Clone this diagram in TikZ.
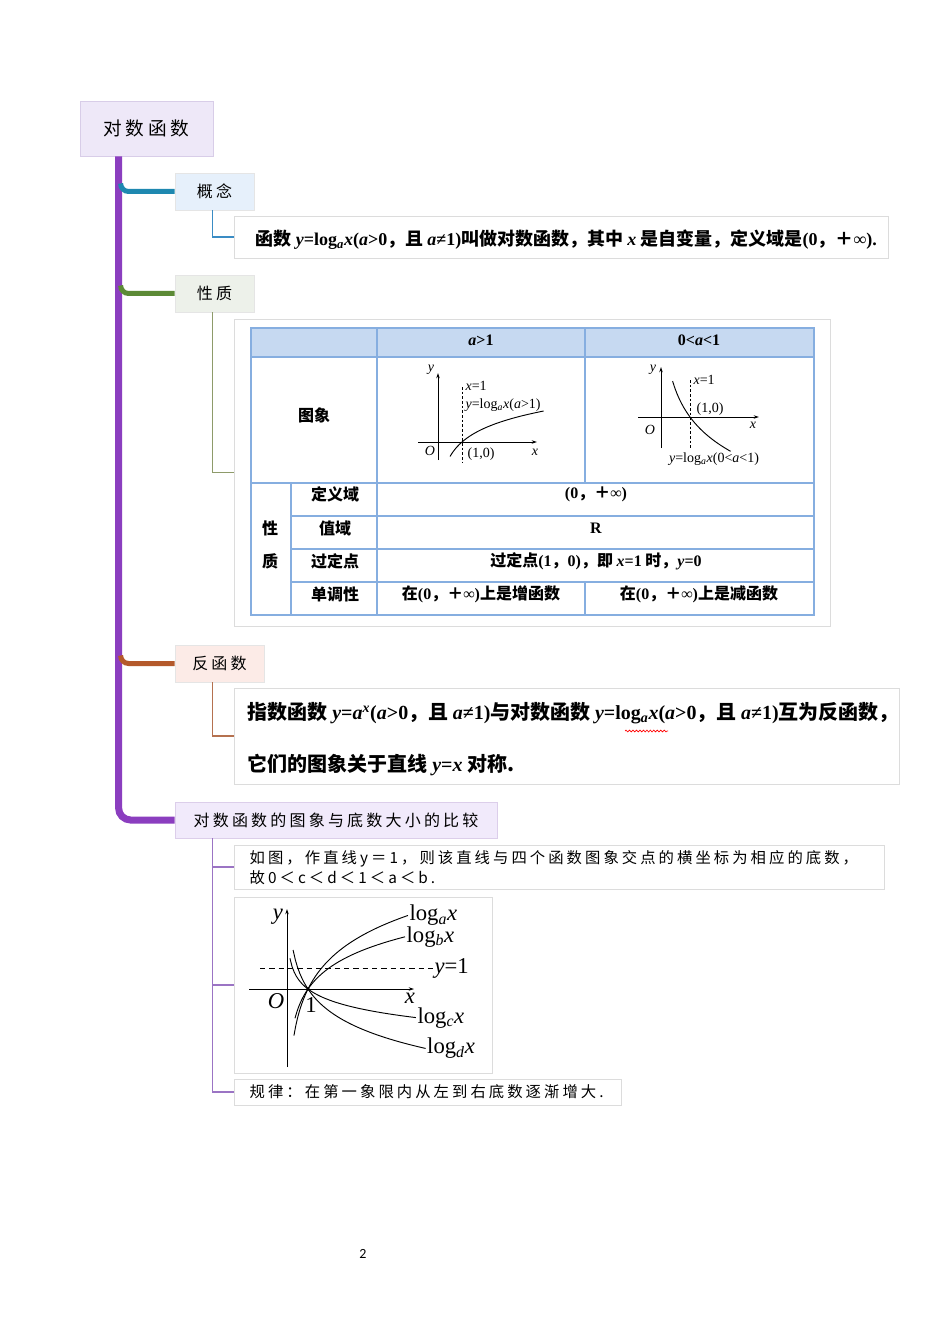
\documentclass[tikz,border=0pt]{standalone}
\usepackage[no-math]{fontspec}
\setmainfont{Noto Sans CJK SC}
\newfontfamily\tms{Liberation Serif}
\newfontfamily\spaced{Noto Sans CJK SC}[LetterSpace=20]
\newfontfamily\pagefont{Carlito}
\usepackage{xcolor}
\usetikzlibrary{arrows.meta,positioning,calc,fit,decorations.pathmorphing}
\definecolor{rootFill}{HTML}{EEE8F8}
\definecolor{rootLine}{HTML}{D8CDE8}
\definecolor{trunkPurple}{HTML}{8B3EBF}
\definecolor{conceptBlue}{HTML}{1E88B0}
\definecolor{conceptFill}{HTML}{E6F0FB}
\definecolor{conceptLeaf}{HTML}{3A8CC4}
\definecolor{propGreen}{HTML}{5C8A36}
\definecolor{propFill}{HTML}{EDF1EA}
\definecolor{propLeaf}{HTML}{8E9B6A}
\definecolor{invRust}{HTML}{B4592B}
\definecolor{invFill}{HTML}{FCEBE7}
\definecolor{invLeaf}{HTML}{B5714F}
\definecolor{cmpFill}{HTML}{F1EAFB}
\definecolor{cmpLeaf}{HTML}{9B74C4}
\definecolor{noteLine}{HTML}{DCDCDC}
\definecolor{tableBlue}{HTML}{86AEE0}
\definecolor{headFill}{HTML}{C6D9F1}
\newcommand\mv[1]{{\tms\itshape #1}}
\newcommand\mt[1]{{\tms #1}}
\newcommand\logsub[1]{\mt{log}\textsubscript{\mv{#1}}}

\begin{document}
\begin{tikzpicture}[
  x=0.75pt,y=-0.75pt,
  font=\fontsize{12}{14}\selectfont,
  pxsize/.style 2 args={minimum width=#1*0.75pt,minimum height=#2*0.75pt},
  rootbox/.style={draw=rootLine,fill=rootFill,inner sep=0pt,line width=0.6pt,font=\spaced\fontsize{14}{16}\selectfont},
  topic/.style={draw=black!10,fill=#1,inner sep=0pt,line width=0.6pt,font=\spaced\fontsize{12}{14}\selectfont},
  note/.style={draw=noteLine,fill=white,inner sep=0pt,line width=0.6pt},
  trunkline/.style={line width=5.25pt,draw=trunkPurple,rounded corners=9pt},
  branch/.style={line width=3.75pt,draw=#1,rounded corners=6pt},
  leaf/.style={line width=0.9pt,draw=#1},
  tblline/.style={draw=tableBlue,line width=0.8pt},
  cell/.style={font=\bfseries\fontsize{12}{14}\selectfont},
  axis/.style={-{Stealth[length=4pt,width=2.6pt]},line width=0.6pt},
  curve/.style={line width=0.7pt},
  guide/.style={dash pattern=on 2pt off 1.5pt,line width=0.5pt}
]
\useasboundingbox (0,0) rectangle (950,1344);
\fill[white] (0,0) rectangle (950,1344);

% mind map frame
\node[rootbox,pxsize={133}{55}] (root) at (146.5,128.5) {对数函数};
\coordinate (trunk) at ($(root.south west)+(39,0)$);
\node[topic=conceptFill,pxsize={79}{37}] (gainian) at (214.5,191.5) {概念};
\node[topic=propFill,pxsize={79}{37}] (xingzhi) at (214.5,293.5) {性质};
\node[topic=invFill,pxsize={89}{37}] (fanhs) at (219.5,663.5) {反函数};
\node[topic=cmpFill,draw=cmpLeaf!35,pxsize={322}{36}] (bijiao) at (336,820) {对数函数的图象与底数大小的比较};

\draw[trunkline] (trunk) |- (bijiao.west);
\draw[branch=conceptBlue] ($(gainian.west -| trunk)+(2,-8)$) |- (gainian.west);
\draw[branch=propGreen] ($(xingzhi.west -| trunk)+(2,-8)$) |- (xingzhi.west);
\draw[branch=invRust] ($(fanhs.west -| trunk)+(2,-8)$) |- (fanhs.west);

% concept
\node[note,fit={(234,216)(888,258)}] (defbox) {};
\node[anchor=west,font=\bfseries\fontsize{13.5}{15}\selectfont] (deftext) at (251,240)
  {函数 \mv{y}\mt{=}\logsub{a}\mv{x}\mt{(}\mv{a}\mt{>0}，且 \mv{a}\mt{≠1)}叫做对数函数，其中 \mv{x} 是自变量，定义域是\mt{(0}，＋\mt{∞).}};
\draw[leaf=conceptLeaf] ($(gainian.south west)+(38,0)$) |- (defbox.west);

% properties table
\node[note,fit={(234,319)(830,626)}] (tblbox) {};
\draw[leaf=propLeaf] ($(xingzhi.south west)+(38,0)$) |- (tblbox.west);
\fill[headFill] (251,328) rectangle (814,357);
\draw[tblline] (251,328) rectangle (814,615);
\draw[tblline] (251,357) -- (814,357);
\draw[tblline] (251,483) -- (814,483);
\foreach \y in {516,549,582}
  \draw[tblline] (291,\y) -- (814,\y);
\draw[tblline] (377,328) -- (377,615);
\draw[tblline] (585,328) -- (585,483);
\draw[tblline] (585,582) -- (585,615);
\draw[tblline] (291,483) -- (291,615);

\node[cell] (hda) at (481,340) {\mv{a}\mt{>1}};
\node[cell] (hdb) at (699,340) {\mt{0<}\mv{a}\mt{<1}};
\node[cell] (tuxiang) at (314,415) {图象};
\node[cell] (xing) at (270,528) {性};
\node[cell] (zhi) at (270,561) {质};
\node[cell] (dingyi) at (335,494) {定义域};
\node[cell] (zhiyu) at (335,528) {值域};
\node[cell] (guo) at (335,561) {过定点};
\node[cell] (dandiao) at (335,594) {单调性};
\node[cell] (dom) at (596,494) {\mt{(0}，＋\mt{∞)}};
\node[cell] (ran) at (596,528) {\mt{R}};
\node[cell] (fixpt) at (596,561) {过定点\mt{(1}，\mt{0)}，即 \mv{x}\mt{=1} 时，\mv{y}\mt{=0}};
\node[cell] (inc) at (481,594) {在\mt{(0}，＋\mt{∞)}上是增函数};
\node[cell] (dec) at (699,594) {在\mt{(0}，＋\mt{∞)}上是减函数};

% small graphs in the table
\begin{scope}[font=\tms\fontsize{10.5}{11}\selectfont,inner sep=1pt]
  \draw[axis] (418,442) -- (537,442);
  \draw[axis] (438,460) -- (438,373);
  \draw[guide] (462,387) -- (462,462);
  \draw[curve] plot[domain=0.5:4.4,samples=40] ({438+24*\x},{442-20.9*ln(\x)});
  \node (gay) at (431,370) {\mv{y}};
  \node (gao) at (430,451) {\mv{O}};
  \node (gax) at (535,452) {\mv{x}};
  \node[anchor=west] (galine) at (464,386) {\mv{x}=1};
  \node[anchor=west] (gafun) at (464,405) {\mv{y}=log\textsubscript{\mv{a}}\mv{x}(\mv{a}>1)};
  \node[anchor=west] (gapt) at (466,454) {(1,0)};

  \draw[axis] (638,417) -- (759,417);
  \draw[axis] (661,448) -- (661,367);
  \draw[guide] (690,380) -- (690,448);
  \draw[curve] plot[domain=0.4:2.4,samples=40] ({661+29*\x},{417+39.2*ln(\x)});
  \node (gby) at (653,370) {\mv{y}};
  \node (gbo) at (650,430) {\mv{O}};
  \node (gbx) at (753,425) {\mv{x}};
  \node[anchor=west] (gbline) at (692,380) {\mv{x}=1};
  \node[anchor=west] (gbpt) at (695,409) {(1,0)};
  \node (gbfun) at (714,459) {\mv{y}=log\textsubscript{\mv{a}}\mv{x}(0<\mv{a}<1)};
\end{scope}

% inverse function
\node[note,fit={(234,688)(899,784)}] (invbox) {};
\node[anchor=west,align=left,font=\bfseries\fontsize{15}{39}\selectfont] (invtext) at (243,739)
  {指数函数 \mv{y}\mt{=}\mv{a}\textsuperscript{\mv{x}}\mt{(}\mv{a}\mt{>0}，且 \mv{a}\mt{≠1)}与对数函数 \mv{y}\mt{=}\logsub{a}\mv{x}\mt{(}\mv{a}\mt{>0}，且 \mv{a}\mt{≠1)}互为反函数，\\
   它们的图象关于直线 \mv{y}\mt{=}\mv{x} 对称.};
\draw[red,line width=0.5pt,decorate,decoration={snake,amplitude=0.7pt,segment length=2.6pt}] (625,731) -- (668,731);
\draw[leaf=invLeaf] ($(fanhs.south west)+(38,0)$) |- (invbox.west);

% base comparison
\node[note,fit={(234,845)(884,889)}] (cmptextbox) {};
\node[anchor=west,align=left,font=\spaced\fontsize{11.5}{15}\selectfont] (cmptext) at (245,868)
  {如图，作直线y＝1，则该直线与四个函数图象交点的横坐标为相应的底数，\\故0＜c＜d＜1＜a＜b.};
\node[note,fit={(234,897)(492,1073)}] (cmpgraph) {};
\node[note,fit={(234,1079)(621,1105)}] (rulebox) {};
\node[anchor=west,font=\spaced\fontsize{11.5}{13}\selectfont] (ruletext) at (245,1092)
  {规律：在第一象限内从左到右底数逐渐增大.};
\coordinate (cmpstem) at ($(bijiao.south west)+(38,0)$);
\draw[leaf=cmpLeaf] (cmpstem) |- (rulebox.west);
\draw[leaf=cmpLeaf] (cmpstem |- cmptextbox.west) -- (cmptextbox.west);
\draw[leaf=cmpLeaf] (cmpstem |- cmpgraph.west) -- (cmpgraph.west);

\begin{scope}[font=\tms\fontsize{17}{18}\selectfont,inner sep=1pt]
  \draw[axis] (249,989) -- (414,989);
  \draw[axis] (287,1067) -- (287,909);
  \draw[dash pattern=on 4pt off 3pt,line width=0.6pt] (260,968) -- (433,968);
  \node[anchor=west] (yone) at (433,968) {\mv{y}=1};
  \foreach \k/\lo/\hi/\b in {2.0/0.33/5.76/a,1.44/0.38/5.62/b,-0.75/0.14/6.14/c,-1.5/0.29/6.6/d}{
    \draw[curve] plot[domain=\lo:\hi,samples=60] ({287+21*\x},{989-21*(\k)*ln(\x)});
    \node[anchor=west] (lg\b) at ({287+21*\hi},{989-21*(\k)*ln(\hi)}) {log\textsubscript{\mv{\b}}\mv{x}};
  }
  \fill (308,989) circle (1.8);
  \node (cmpo) at (276,1001) {\mv{O}};
  \node (cmpone) at (311,1005) {1};
  \node (cmpx) at (410,998) {\mv{x}};
  \node (cmpy) at (278,917) {\mv{y}};
\end{scope}

\node[font=\pagefont\fontsize{10.5}{12}\selectfont] (pageno) at (363,1254) {2};
\end{tikzpicture}
\end{document}
